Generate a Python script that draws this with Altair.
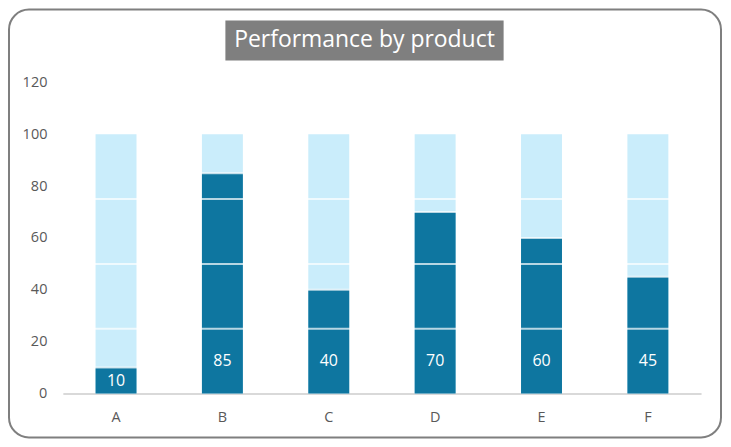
import altair as alt
import pandas as pd

products = ["A", "B", "C", "D", "E", "F"]
values = [10, 85, 40, 70, 60, 45]
full_scale = [100, 100, 100, 100, 100, 100]
separators = [25, 50, 75]
y_ticks = [0, 20, 40, 60, 80, 100, 120]
title_text = "Performance by product"

DARK = "#0E76A0"
LIGHT = "#CAEDFB"
GREY_TXT = "#595959"
FONT = "Open Sans"

df = pd.DataFrame({"product": products, "value": values, "full": full_scale})
df["label_pos"] = [min(v, 25) / 2 for v in values]

sep_rows = [{"product": p, "pos": s} for p in products for s in separators]
sep_rows += [{"product": p, "pos": v} for p, v in zip(products, values)]
sep_df = pd.DataFrame(sep_rows)

x_enc = alt.X(
    "product:N",
    sort=products,
    scale=alt.Scale(paddingInner=0.615, paddingOuter=0.3075),
    axis=alt.Axis(
        title=None, labelAngle=0, ticks=False, labelPadding=17,
        labelFontSize=14.5, labelColor=GREY_TXT, labelFont=FONT,
        domainColor="#D9D9D9", domainWidth=2,
    ),
)
y_scale = alt.Scale(domain=[0, 120], nice=False)
y_axis = alt.Axis(
    title=None, values=y_ticks, ticks=False, domain=False, grid=False,
    labelPadding=16, labelFontSize=14.5, labelColor=GREY_TXT, labelFont=FONT,
)

light = alt.Chart(df).mark_bar(color=LIGHT).encode(
    x=x_enc, y=alt.Y("full:Q", scale=y_scale, axis=y_axis)
)
dark = alt.Chart(df).mark_bar(color=DARK).encode(
    x=x_enc, y=alt.Y("value:Q", scale=y_scale, axis=y_axis)
)
seps = alt.Chart(sep_df).mark_tick(color="white", thickness=2, size=44).encode(
    x=x_enc, y=alt.Y("pos:Q", scale=y_scale, axis=y_axis)
)
labels = alt.Chart(df).mark_text(
    color="white", fontSize=16, font=FONT, baseline="middle", align="center"
).encode(
    x=x_enc, y=alt.Y("label_pos:Q", scale=y_scale, axis=y_axis),
    text=alt.Text("value:Q"),
)

one = pd.DataFrame({"t": [title_text]})
border = alt.Chart(one).mark_rect(
    fill="transparent", stroke="#7F7F7F", strokeWidth=2, cornerRadius=20
).encode(x=alt.value(-54), x2=alt.value(660), y=alt.value(-73), y2=alt.value(356))
title_box = alt.Chart(one).mark_rect(color="#7F7F7F").encode(
    x=alt.value(163), x2=alt.value(442), y=alt.value(-62), y2=alt.value(-22)
)
title = alt.Chart(one).mark_text(
    color="white", fontSize=23, font=FONT, baseline="middle", align="center"
).encode(x=alt.value(302.5), y=alt.value(-42), text="t:N")

chart = alt.layer(border, light, dark, seps, labels, title_box, title).properties(
    width=640, height=312,
    autosize=alt.AutoSizeParams(type="none"),
    padding={"left": 55, "top": 74, "right": 22, "bottom": 47},
).configure(background="white").configure_view(strokeWidth=0, stroke="transparent")

chart.save("out.html", embed_options={"renderer": "svg", "actions": False})
